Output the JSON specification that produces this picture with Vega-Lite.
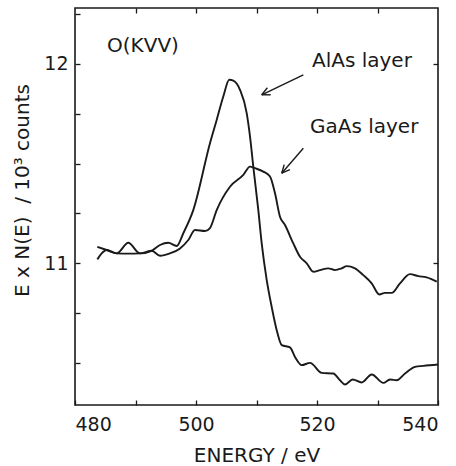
{
  "$schema": "https://vega.github.io/schema/vega-lite/v6.json",
  "width": 363,
  "height": 397,
  "autosize": "none",
  "padding": {"left": 75, "top": 8, "right": 18, "bottom": 61},
  "background": "white",
  "config": {
    "font": "DejaVu Sans",
    "view": {"stroke": "#1a1a1a", "strokeWidth": 1.6},
    "axis": {
      "domain": false,
      "grid": false,
      "tickColor": "#1a1a1a",
      "tickSize": -5,
      "tickWidth": 1.3,
      "labelColor": "#1a1a1a",
      "titleColor": "#1a1a1a",
      "labelFont": "DejaVu Sans",
      "titleFont": "DejaVu Sans",
      "labelFontSize": 19,
      "titleFontSize": 20,
      "titleFontWeight": "normal"
    }
  },
  "datasets": {
    "spectra": [
      {"series": "AlAs", "energy": 483.69, "counts": 11.02},
      {"series": "AlAs", "energy": 484.41, "counts": 11.05},
      {"series": "AlAs", "energy": 485.24, "counts": 11.067},
      {"series": "AlAs", "energy": 486.89, "counts": 11.05},
      {"series": "AlAs", "energy": 488.81, "counts": 11.103},
      {"series": "AlAs", "energy": 490.74, "counts": 11.05},
      {"series": "AlAs", "energy": 492.68, "counts": 11.063},
      {"series": "AlAs", "energy": 494.05, "counts": 11.092},
      {"series": "AlAs", "energy": 495.42, "counts": 11.103},
      {"series": "AlAs", "energy": 496.81, "counts": 11.087},
      {"series": "AlAs", "energy": 497.9, "counts": 11.151},
      {"series": "AlAs", "energy": 499.55, "counts": 11.267},
      {"series": "AlAs", "energy": 502.31, "counts": 11.602},
      {"series": "AlAs", "energy": 503.42, "counts": 11.719},
      {"series": "AlAs", "energy": 504.51, "counts": 11.836},
      {"series": "AlAs", "energy": 505.5, "counts": 11.92},
      {"series": "AlAs", "energy": 506.17, "counts": 11.916},
      {"series": "AlAs", "energy": 507.27, "counts": 11.87},
      {"series": "AlAs", "energy": 508.38, "counts": 11.753},
      {"series": "AlAs", "energy": 508.93, "counts": 11.635},
      {"series": "AlAs", "energy": 509.47, "counts": 11.485},
      {"series": "AlAs", "energy": 510.3, "counts": 11.267},
      {"series": "AlAs", "energy": 510.86, "counts": 11.1},
      {"series": "AlAs", "energy": 511.69, "counts": 10.916},
      {"series": "AlAs", "energy": 512.51, "counts": 10.782},
      {"series": "AlAs", "energy": 513.34, "counts": 10.665},
      {"series": "AlAs", "energy": 514.17, "counts": 10.59},
      {"series": "AlAs", "energy": 515.54, "counts": 10.579},
      {"series": "AlAs", "energy": 516.36, "counts": 10.531},
      {"series": "AlAs", "energy": 517.47, "counts": 10.49},
      {"series": "AlAs", "energy": 518.84, "counts": 10.501},
      {"series": "AlAs", "energy": 520.78, "counts": 10.451},
      {"series": "AlAs", "energy": 522.69, "counts": 10.448},
      {"series": "AlAs", "energy": 523.8, "counts": 10.414},
      {"series": "AlAs", "energy": 524.63, "counts": 10.393},
      {"series": "AlAs", "energy": 525.9, "counts": 10.418},
      {"series": "AlAs", "energy": 527.39, "counts": 10.403},
      {"series": "AlAs", "energy": 529.04, "counts": 10.443},
      {"series": "AlAs", "energy": 530.96, "counts": 10.401},
      {"series": "AlAs", "energy": 532.07, "counts": 10.418},
      {"series": "AlAs", "energy": 533.17, "counts": 10.414},
      {"series": "AlAs", "energy": 534.55, "counts": 10.448},
      {"series": "AlAs", "energy": 536.2, "counts": 10.481},
      {"series": "AlAs", "energy": 537.57, "counts": 10.486},
      {"series": "AlAs", "energy": 540.0, "counts": 10.493},
      {"series": "GaAs", "energy": 483.69, "counts": 11.083},
      {"series": "GaAs", "energy": 485.24, "counts": 11.067},
      {"series": "GaAs", "energy": 486.89, "counts": 11.05},
      {"series": "GaAs", "energy": 488.81, "counts": 11.049},
      {"series": "GaAs", "energy": 490.74, "counts": 11.05},
      {"series": "GaAs", "energy": 492.68, "counts": 11.063},
      {"series": "GaAs", "energy": 494.05, "counts": 11.038},
      {"series": "GaAs", "energy": 495.7, "counts": 11.05},
      {"series": "GaAs", "energy": 497.36, "counts": 11.075},
      {"series": "GaAs", "energy": 498.73, "counts": 11.117},
      {"series": "GaAs", "energy": 499.83, "counts": 11.167},
      {"series": "GaAs", "energy": 501.49, "counts": 11.162},
      {"series": "GaAs", "energy": 502.31, "counts": 11.177},
      {"series": "GaAs", "energy": 503.42, "counts": 11.267},
      {"series": "GaAs", "energy": 505.62, "counts": 11.384},
      {"series": "GaAs", "energy": 507.82, "counts": 11.443},
      {"series": "GaAs", "energy": 508.93, "counts": 11.485},
      {"series": "GaAs", "energy": 509.75, "counts": 11.477},
      {"series": "GaAs", "energy": 511.12, "counts": 11.46},
      {"series": "GaAs", "energy": 512.23, "counts": 11.435},
      {"series": "GaAs", "energy": 513.06, "counts": 11.351},
      {"series": "GaAs", "energy": 513.88, "counts": 11.234},
      {"series": "GaAs", "energy": 514.71, "counts": 11.192},
      {"series": "GaAs", "energy": 516.08, "counts": 11.1},
      {"series": "GaAs", "energy": 517.19, "counts": 11.033},
      {"series": "GaAs", "energy": 518.3, "counts": 11.0},
      {"series": "GaAs", "energy": 519.39, "counts": 10.958},
      {"series": "GaAs", "energy": 520.5, "counts": 10.966},
      {"series": "GaAs", "energy": 521.87, "counts": 10.975},
      {"series": "GaAs", "energy": 522.98, "counts": 10.966},
      {"series": "GaAs", "energy": 524.08, "counts": 10.975},
      {"series": "GaAs", "energy": 524.91, "counts": 10.986},
      {"series": "GaAs", "energy": 526.28, "counts": 10.975},
      {"series": "GaAs", "energy": 527.65, "counts": 10.941},
      {"series": "GaAs", "energy": 529.04, "counts": 10.9},
      {"series": "GaAs", "energy": 530.3, "counts": 10.844},
      {"series": "GaAs", "energy": 531.24, "counts": 10.852},
      {"series": "GaAs", "energy": 532.35, "counts": 10.852},
      {"series": "GaAs", "energy": 533.72, "counts": 10.9},
      {"series": "GaAs", "energy": 535.37, "counts": 10.946},
      {"series": "GaAs", "energy": 536.74, "counts": 10.936},
      {"series": "GaAs", "energy": 538.13, "counts": 10.93},
      {"series": "GaAs", "energy": 539.79, "counts": 10.908}
    ],
    "arrows": [
      {"part": "AlAs shaft", "x": 517.74, "y": 11.945, "x2": 510.86, "y2": 11.845},
      {"part": "AlAs head a", "x": 510.86, "y": 11.845, "x2": 512.35, "y2": 11.845},
      {"part": "AlAs head b", "x": 510.86, "y": 11.845, "x2": 511.8, "y2": 11.88},
      {"part": "GaAs shaft", "x": 517.74, "y": 11.577, "x2": 514.17, "y2": 11.452},
      {"part": "GaAs head a", "x": 514.17, "y": 11.452, "x2": 515.52, "y2": 11.47},
      {"part": "GaAs head b", "x": 514.17, "y": 11.452, "x2": 514.58, "y2": 11.495}
    ],
    "labels": [
      {"text": "O(KVV)", "energy": 485.3, "counts": 12.057},
      {"text": "AlAs layer", "energy": 519.17, "counts": 11.986},
      {"text": "GaAs layer", "energy": 518.84, "counts": 11.654}
    ]
  },
  "resolve": {"axis": {"x": "independent", "y": "independent"}},
  "layer": [
    {
      "data": {"name": "spectra"},
      "mark": {"type": "line", "color": "#1a1a1a", "strokeWidth": 1.9, "interpolate": "monotone"},
      "encoding": {
        "x": {
          "field": "energy",
          "type": "quantitative",
          "scale": {"domain": [480, 540], "nice": false, "zero": false},
          "axis": {
            "orient": "bottom",
            "values": [480, 490, 500, 510, 520, 530, 540],
            "labelExpr": "datum.value % 20 === 0 ? datum.label : ''",
            "labelPadding": 15,
            "title": "ENERGY / eV",
            "titlePadding": 11
          }
        },
        "y": {
          "field": "counts",
          "type": "quantitative",
          "scale": {"domain": [10.29, 12.28], "nice": false, "zero": false},
          "axis": {
            "orient": "left",
            "values": [10.5, 10.75, 11, 11.25, 11.5, 11.75, 12, 12.25],
            "labelExpr": "datum.value === 11 || datum.value === 12 ? format(datum.value, 'd') : ''",
            "labelPadding": 12,
            "title": "E x N(E)\u00a0\u00a0/ 10³ counts",
            "titleAngle": 270,
            "titleAlign": "center",
            "titleBaseline": "middle",
            "titleX": -53,
            "titleY": 182
          }
        },
        "detail": {"field": "series"}
      }
    },
    {
      "data": {"name": "arrows"},
      "mark": {"type": "rule", "color": "#1a1a1a", "strokeWidth": 1.4},
      "encoding": {
        "x": {
          "field": "x",
          "type": "quantitative",
          "axis": {"orient": "top", "values": [490, 500, 510, 520, 530], "labels": false, "title": null}
        },
        "y": {
          "field": "y",
          "type": "quantitative",
          "axis": {"orient": "right", "values": [11, 12], "labels": false, "title": null}
        },
        "x2": {"field": "x2"},
        "y2": {"field": "y2"}
      }
    },
    {
      "data": {"name": "labels"},
      "mark": {"type": "text", "align": "left", "baseline": "alphabetic", "fontSize": 20, "color": "#1a1a1a"},
      "encoding": {
        "x": {"field": "energy", "type": "quantitative", "axis": null},
        "y": {"field": "counts", "type": "quantitative", "axis": null},
        "text": {"field": "text"}
      }
    }
  ]
}
